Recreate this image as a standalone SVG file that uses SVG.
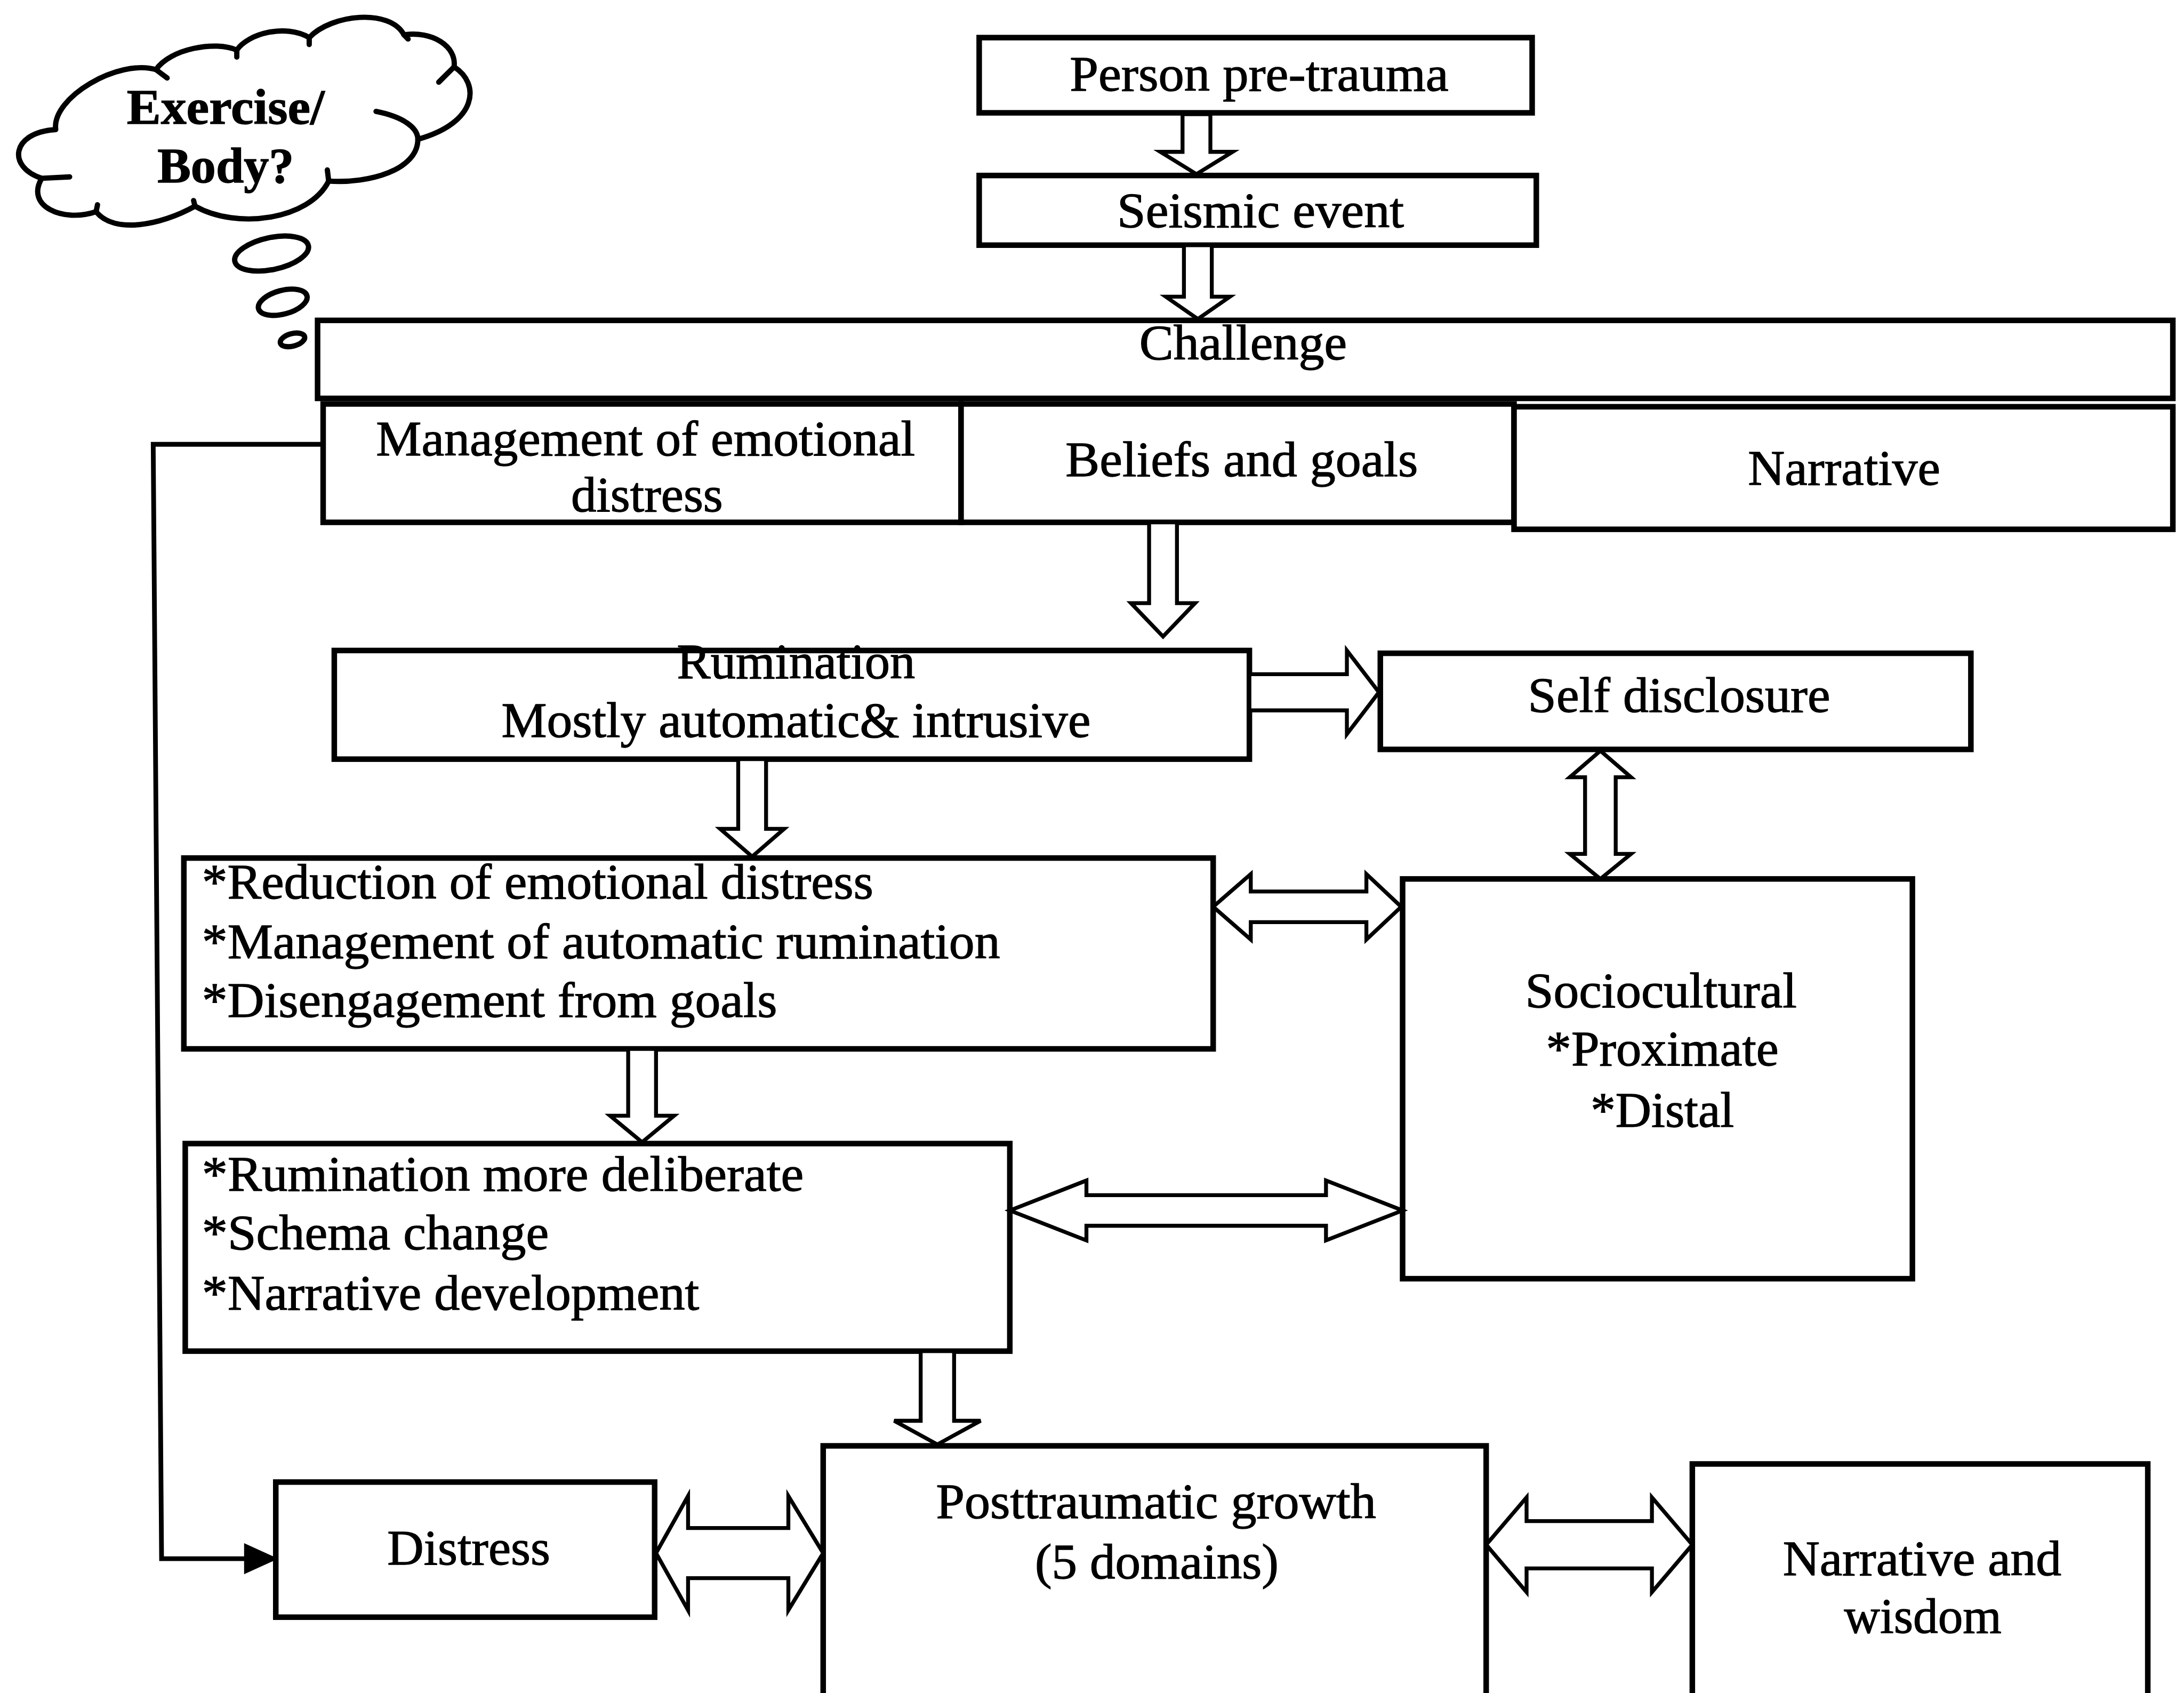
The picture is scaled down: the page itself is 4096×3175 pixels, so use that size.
<svg xmlns="http://www.w3.org/2000/svg" width="4096" height="3175" viewBox="0 0 4096 3175">
<style>
.box{fill:#fff;stroke:#000;stroke-width:4}
.arr{fill:#fff;stroke:#000;stroke-width:2.8;stroke-linejoin:miter}
.t{font-family:"Liberation Serif","Times New Roman",serif;font-size:36px;fill:#000;stroke:#000;stroke-width:0.5}
.b{font-weight:bold}
.line{fill:none;stroke:#000;stroke-width:3.4}
.cl{fill:#fff;stroke:#000;stroke-width:3.8;stroke-linecap:round;stroke-linejoin:round}
.tick{fill:none;stroke:#000;stroke-width:3.8;stroke-linecap:round}
</style>
<rect width="4096" height="3175" fill="#fff"/>
<g transform="scale(2.61224)">
<g id="cloud">
<path class="cl" d="M40,93 C37,70 85,42 112,50 C122,35 155,29 170,36 C178,24 205,17 222,27 C238,10 280,6 290,25 C310,22 328,33 326,48 C345,60 343,88 300,100 C300,122 265,132 236,130 C222,158 170,165 140,148 C115,162 82,168 69,152 C45,160 18,148 30,128 C5,120 8,95 40,93 Z"/>
<path class="tick" d="M112,50 L120,56 M170,36 L170,41 M222,27 L222,32 M290,25 L293,28 M326,48 L315,59 M270,80 C290,84 300,92 300,100 M236,130 L235,122 M140,148 L139,144 M69,152 L70,147 M30,128 L50,127"/>
<text class="t b" x="91" y="89" textLength="142" lengthAdjust="spacingAndGlyphs">Exercise/</text>
<text class="t b" x="113" y="131" textLength="98" lengthAdjust="spacingAndGlyphs">Body?</text>
<ellipse class="cl" cx="195" cy="182" rx="27" ry="11.5" transform="rotate(-12 195 182)"/>
<ellipse class="cl" cx="203" cy="217" rx="18" ry="8.5" transform="rotate(-15 203 217)"/>
<ellipse class="cl" cx="210" cy="244" rx="9" ry="4.5" transform="rotate(-15 210 244)"/>
</g>
<g id="person">
<rect class="box" x="703" y="27" width="397" height="54"/>
<text class="t" x="768" y="65" textLength="272" lengthAdjust="spacingAndGlyphs">Person pre-trauma</text>
</g>
<g id="seismic">
<rect class="box" x="703" y="126" width="400" height="50"/>
<text class="t" x="802" y="163" textLength="206" lengthAdjust="spacingAndGlyphs">Seismic event</text>
</g>
<g id="challenge">
<rect class="box" x="228" y="230" width="1332" height="56"/>
<text class="t" x="818" y="258" textLength="149" lengthAdjust="spacingAndGlyphs">Challenge</text>
</g>
<g id="management">
<rect class="box" x="232" y="290" width="458" height="85"/>
<text class="t" x="270" y="327" textLength="387" lengthAdjust="spacingAndGlyphs">Management of emotional</text>
<text class="t" x="410" y="367" textLength="109" lengthAdjust="spacingAndGlyphs">distress</text>
</g>
<g id="beliefs">
<rect class="box" x="690" y="290" width="397" height="85"/>
<text class="t" x="765" y="342" textLength="253" lengthAdjust="spacingAndGlyphs">Beliefs and goals</text>
</g>
<g id="narrative">
<rect class="box" x="1087" y="292" width="473" height="88"/>
<text class="t" x="1255" y="348" textLength="138" lengthAdjust="spacingAndGlyphs">Narrative</text>
</g>
<g id="rumination">
<rect class="box" x="240" y="467" width="657" height="78"/>
<text class="t" x="486" y="487" textLength="171" lengthAdjust="spacingAndGlyphs">Rumination</text>
<text class="t" x="360" y="529" textLength="423" lengthAdjust="spacingAndGlyphs">Mostly automatic&amp; intrusive</text>
</g>
<g id="self-disclosure">
<rect class="box" x="991" y="469" width="424" height="69"/>
<text class="t" x="1097" y="511" textLength="217" lengthAdjust="spacingAndGlyphs">Self disclosure</text>
</g>
<g id="reduction">
<rect class="box" x="132" y="616" width="739" height="137"/>
<text class="t" x="145" y="645" textLength="482" lengthAdjust="spacingAndGlyphs">*Reduction of emotional distress</text>
<text class="t" x="145" y="688" textLength="573" lengthAdjust="spacingAndGlyphs">*Management of automatic rumination</text>
<text class="t" x="145" y="730" textLength="413" lengthAdjust="spacingAndGlyphs">*Disengagement from goals</text>
</g>
<g id="sociocultural">
<rect class="box" x="1007" y="631" width="366" height="287"/>
<text class="t" x="1095" y="723" textLength="195" lengthAdjust="spacingAndGlyphs">Sociocultural</text>
<text class="t" x="1110" y="765" textLength="167" lengthAdjust="spacingAndGlyphs">*Proximate</text>
<text class="t" x="1142" y="809" textLength="103" lengthAdjust="spacingAndGlyphs">*Distal</text>
</g>
<g id="deliberate">
<rect class="box" x="133" y="821" width="592" height="149"/>
<text class="t" x="145" y="855" textLength="432" lengthAdjust="spacingAndGlyphs">*Rumination more deliberate</text>
<text class="t" x="145" y="897" textLength="249" lengthAdjust="spacingAndGlyphs">*Schema change</text>
<text class="t" x="145" y="940" textLength="357" lengthAdjust="spacingAndGlyphs">*Narrative development</text>
</g>
<g id="distress">
<rect class="box" x="198" y="1064" width="272" height="97"/>
<text class="t" x="278" y="1123" textLength="117" lengthAdjust="spacingAndGlyphs">Distress</text>
</g>
<g id="growth">
<rect class="box" x="591" y="1038" width="476" height="220"/>
<text class="t" x="672" y="1090" textLength="316" lengthAdjust="spacingAndGlyphs">Posttraumatic growth</text>
<text class="t" x="743" y="1133" textLength="175" lengthAdjust="spacingAndGlyphs">(5 domains)</text>
</g>
<g id="wisdom">
<rect class="box" x="1215" y="1051" width="327" height="220"/>
<text class="t" x="1280" y="1131" textLength="200" lengthAdjust="spacingAndGlyphs">Narrative and</text>
<text class="t" x="1324" y="1172" textLength="113" lengthAdjust="spacingAndGlyphs">wisdom</text>
</g>
<g id="connectors">
<polygon class="arr" points="849,82 869,82 869,109 885,109 859,125 833,109 849,109"/>
<polygon class="arr" points="850,176 870,176 870,213 883,213 860,229 837,213 850,213"/>
<polygon class="arr" points="825,375 845,375 845,433 858,433 835,457 812,433 825,433"/>
<polygon class="arr" points="530,545 550,545 550,595 563,595 540,615 517,595 530,595"/>
<polygon class="arr" points="451,753 471,753 471,801 484,801 461,820 438,801 451,801"/>
<polygon class="arr" points="661,970 685,970 685,1020 704,1020 673,1037 642,1020 661,1020"/>
<polygon class="arr" points="897,484 967,484 967,467 990,497 967,527 967,510 897,510"/>
<polygon class="arr" points="1149,539 1171,558 1160,558 1160,613 1171,613 1149,631 1127,613 1138,613 1138,558 1127,558"/>
<polygon class="arr" points="871,651 898,627.5 898,640 981,640 981,627.5 1006,651 981,674.5 981,662 898,662 898,674.5"/>
<polygon class="arr" points="725,869 780,847.5 780,858 952,858 952,847.5 1007,869 952,890.5 952,880 780,880 780,890.5"/>
<polygon class="arr" points="471,1115 494,1074 494,1097 566,1097 566,1074 591,1115 566,1156 566,1133 494,1133 494,1156"/>
<polygon class="arr" points="1067,1109 1096,1075 1096,1092 1186,1092 1186,1075 1215,1109 1186,1143 1186,1126 1096,1126 1096,1143"/>
<polyline class="line" points="231,319 110,319 116,1119 178,1119"/>
<polygon points="176,1109 198,1119 176,1129" fill="#000" stroke="#000" stroke-width="1.5"/>
</g>
</g>
</svg>
